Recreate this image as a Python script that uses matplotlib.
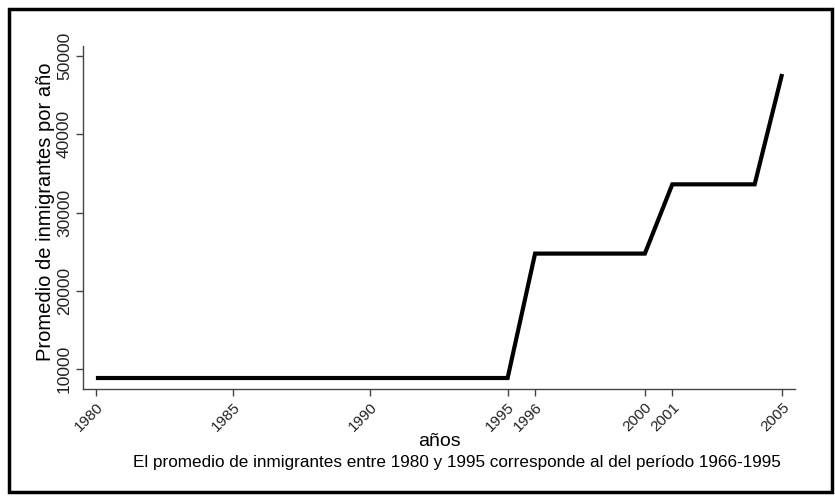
import matplotlib
matplotlib.use("Agg")
import matplotlib.pyplot as plt
from matplotlib.patches import Rectangle

years = [1980, 1995, 1996, 2000, 2001, 2004, 2005]
values = [8850, 8850, 24750, 24750, 33600, 33600, 47700]
xticks = [1980, 1985, 1990, 1995, 1996, 2000, 2001, 2005]
yticks = [10000, 20000, 30000, 40000, 50000]

plt.rcParams['font.family'] = ['Liberation Sans', 'DejaVu Sans']

fig = plt.figure(figsize=(8.35, 5.0), dpi=100)
ax = fig.add_axes([83/835, 1-389/500, (795-83)/835, (389-46)/500])

ax.plot(years, values, color='black', lw=3.0, solid_joinstyle='miter', solid_capstyle='butt')

ax.set_xlim(1979.53, 2005.47)
ax.set_ylim(7446, 51277)
ax.set_xticks(xticks)
ax.set_xticklabels([str(x) for x in xticks], rotation=45, ha='right', va='top',
                   rotation_mode='anchor', fontsize=11, color='#222222')
ax.set_yticks(yticks)
ax.set_yticklabels([str(y) for y in yticks], rotation=90, va='center', ha='right', fontsize=12.5, color='#222222')
ax.tick_params(axis='both', direction='out', length=5, width=1, color='#444444')
ax.tick_params(axis='y', pad=3)
ax.tick_params(axis='x', pad=3)
for s in ['top', 'right']:
    ax.spines[s].set_visible(False)
for s in ['left', 'bottom']:
    ax.spines[s].set_color('#444444')
    ax.spines[s].set_linewidth(1)

ax.set_ylabel('Promedio de inmigrantes por año', fontsize=14.5)
ax.yaxis.set_label_coords(-0.039, (389-212)/(389-46))
fig.text(439/835, 1-441/500, 'años', ha='center', va='center', fontsize=14)
fig.text(133/835, 1-462/500, 'El promedio de inmigrantes entre 1980 y 1995 corresponde al del período 1966-1995',
         ha='left', va='center', fontsize=12.3)

fig.patches.append(Rectangle((9/835, 8/500), (832-9)/835, (491-8)/500, transform=fig.transFigure,
                             fill=False, edgecolor='black', linewidth=2.5))

fig.savefig('out.png', dpi=100)
